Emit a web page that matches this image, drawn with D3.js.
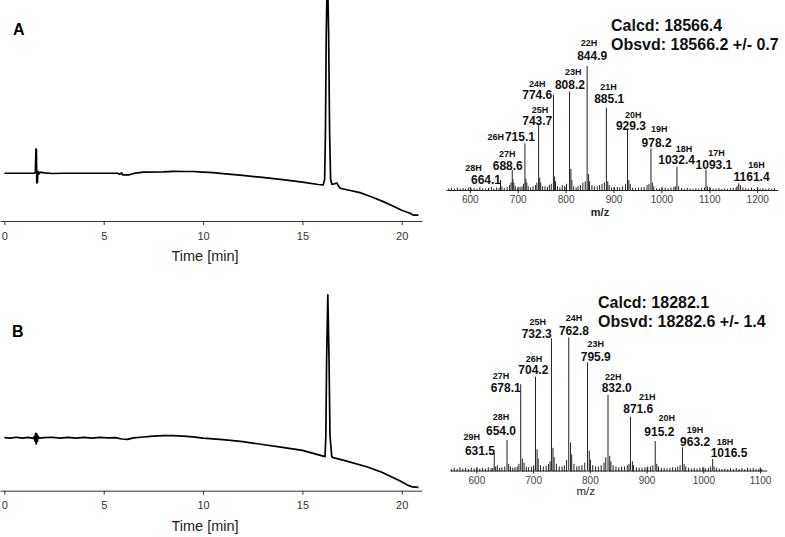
<!DOCTYPE html>
<html><head><meta charset="utf-8">
<script src="https://cdn.jsdelivr.net/npm/d3@7"></script>
<style>
body{margin:0;background:#fff;}
svg{display:block;font-family:Arial,"Liberation Sans",Helvetica,sans-serif;}
</style></head><body>
<svg id="c" width="785" height="537"></svg>
<script>
// ---------- DATA ----------
const timeTicks = [0, 5, 10, 15, 20];

// Chromatogram A (time in min, absorbance in arbitrary units)
const chromA_time = [0,1.0,1.5,1.56,1.59,1.61,1.63,1.66,1.69,1.74,1.8,2.0,2.4,3.0,4.0,5.0,5.7,5.8,5.9,5.95,6.3,6.6,7.0,8.0,8.5,9.0,9.5,10.0,10.5,11.0,12.0,13.0,14.0,15.0,15.8,16.05,16.12,16.16,16.20,16.26,16.32,16.37,16.42,16.48,16.62,16.73,16.8,16.9,17.3,17.9,18.5,19.07,19.5,20.0,20.41,20.58,20.84];
const chromA_signal = [21.7,21.7,21.7,22.2,32.7,32.7,17.3,17.5,22.6,21.4,22.2,21.9,21.6,21.7,21.7,21.7,21.7,21.2,21.9,21.0,21.0,21.8,22.2,22.3,22.6,22.5,22.5,22.2,22.0,21.5,20.7,19.8,18.8,17.7,16.6,16.4,19,40,85,115,85,40,19,16.7,16.9,17.3,16.2,14.9,14.1,12.9,10.9,8.8,7.0,4.9,3.5,2.7,2.7];

// Chromatogram B
const chromB_time = [0,0.3,0.6,0.9,1.2,1.45,1.5,1.54,1.57,1.6,1.63,1.66,1.7,1.75,2.0,2.4,2.8,3.2,3.6,4.0,4.4,4.8,5.2,5.6,5.9,6.2,6.5,7.0,7.5,8.0,8.5,9.0,9.5,10.0,11.0,12.0,13.0,14.0,15.0,16.14,16.18,16.22,16.28,16.34,16.39,16.48,16.55,17.0,18.24,19.0,19.9,20.33,20.55,20.84];
const chromB_signal = [24.1,23.9,24.3,23.9,24.2,23.8,24.6,22.5,26.1,21.3,26.0,22.3,24.8,23.9,24.1,24.3,23.9,24.2,23.9,24.2,23.9,24.2,24.0,24.1,23.5,23.3,24.0,24.4,24.8,25.0,25.0,24.8,24.5,23.9,23.2,22.3,21.0,19.7,18.3,15.5,25,60,89,60,25,15.4,15.0,14.0,10.9,8.4,4.5,2.4,1.7,1.5];

// Mass spectrum A
const msA_ticks = [600,700,800,900,1000,1100,1200];
const msA_mz = [664.1,688.6,715.1,743.7,774.6,808.2,844.9,885.1,929.3,978.2,1032.4,1093.1,1161.4];
const msA_charge = [28,27,26,25,24,23,22,21,20,19,18,17,16];
const msA_int = [8.1,16.1,37.6,53.8,76.6,79.3,100,66.4,48.4,33.6,18.8,16.5,5.4];
const msA_noiseMz = [556,562,568,574,580,586,591,597,603,609,615,621,627,633,639,645,650,656,661,667,672,678,683,686,690,692,695,700,705,709,712,717,719,722,727,732,737,740,746,748,752,757,762,766,770,777,779,783,788,793,798,802,811,813,817,822,826,831,836,841,848,850,855,860,866,871,876,881,888,891,896,902,908,913,919,925,932,935,940,946,952,958,964,970,974,981,984,990,996,1002,1008,1014,1020,1026,1029,1036,1042,1048,1054,1060,1066,1072,1078,1084,1090,1096,1102,1108,1114,1120,1126,1132,1138,1144,1150,1156,1158,1165,1170,1176,1182,1188,1194,1200,1206,1212,1218,1224,1230,1236];
const msA_noiseInt = [1.2,1.8,1,2,1.2,1.6,1,2,1.3,1.6,1,2.2,1.4,1,1.8,2.5,1.2,2,1.5,3,1.5,2.5,4,6,9,6,3,2,2.5,3,5,9,6,3,2,3,4,6,10,6,3,3,2.5,4,5,11,7,3,2,4,3,5,17,8,3,2,3,4,6,7,13,7,4,3,3,4,5,6,7,4,2,2,2.5,2,3,5,8,5,2,1.5,2,2,2.5,4,5,6,3,1.5,1.2,1.5,2,1.3,2,2.5,3,3,1.5,1,1.8,1.2,1,1.5,1.2,1.8,2,3,1.5,1,1.2,1.5,1,1.3,1,1.5,1.8,2,3,4,2,1.5,1,1.8,1,1.2,1,1.5,1,1.2,1,1.5];

// Mass spectrum B
const msB_ticks = [600,700,800,900,1000,1100];
const msB_mz = [631.5,654.0,678.1,704.2,732.3,762.8,795.9,832.0,871.6,915.2,963.2,1016.5];
const msB_charge = [29,28,27,26,25,24,23,22,21,20,19,18];
const msB_int = [13.4,22.9,64.9,70.4,99.2,100,81.2,56.7,40.4,22.1,17.4,8.6];
const msB_noiseMz = [556,561,566,571,576,581,586,591,596,601,606,611,616,621,626,629,634,637,641,645,650,657,660,664,668,672,675,681,684,688,692,697,701,707,709,713,718,723,727,730,735,737,741,746,751,755,759,766,768,772,777,781,786,791,799,801,805,810,815,820,825,828,835,837,841,846,851,856,861,866,869,875,877,882,887,892,897,902,907,911,918,921,926,931,936,941,946,951,955,959,966,969,974,979,984,989,994,999,1004,1009,1013,1019,1023,1028,1033,1038,1043,1048,1053,1058,1063,1068,1073,1078,1083,1088,1093,1098,1103];
const msB_noiseInt = [1,2,1.2,2.5,1.5,2,1.2,2.2,1.5,2.5,1.5,2,1.3,2.5,1.8,2,3,4,2,2.5,3,5,3,2,2.5,3,5,9,6,3,2.5,3,4,16,9,4,3,3.5,5,7,17,10,5,3,3,4,8,21,12,5,3,3.5,4,6,15,8,4,3,3,4,6,10,11,7,4,3,2.5,3,3,4,5,7,4,2.5,2,2,2.5,3,3,4,5,3,2,2,1.5,2,2.5,2,3,4,5,3,2,1.5,2,1.5,2,2.5,1.5,2,3,3,2,1.5,1.2,1.5,1,1.8,1,2,1.2,1.8,1,2,1.5,2,1.2,1.5,1];

// ---------- LAYOUT (label offsets from each peak top, px) ----------
const labOffA = [[-27,-11.5,-14.5,0],[-5,-16,-4.5,-4.5],[-29.3,-6.5,-5,-6.5],[1.3,-13.5,-1.4,-2],[-16.2,-11.5,-16.2,0],[3.7,-20,0.4,-6.7],[1.8,-23.3,5.1,-10],[2.2,-20.4,2.8,-8.7],[5.7,-15.2,3.4,-4],[8.2,-19.3,5.6,-5.6],[7,-17.8,-0.3,-6.4],[10.6,-17,7.9,-5],[17.9,-18,12.9,-6.6]];
const labOffB = [[-22.6,-15.4,-14.3,-2],[-6,-22.7,-6,-9.3],[-19.7,-8.3,-15,4.3],[-1.5,-18,-2.2,-6.7],[-13.8,-16,-14.8,-4],[5.2,-19,5.2,-6.6],[8.2,-18.3,8.2,-5.6],[5.3,-18.3,8.7,-6.7],[16.8,-20,7.8,-7.4],[11.5,-22.7,4.1,-8.7],[12.6,-17.5,12.6,-5.6],[12.3,-17.3,16.3,-5.7]];

// ---------- DRAW ----------
const svg = d3.select("#c");

function chrom(times, signal, axisY, letter, letterX, letterY) {
  const g = svg.append("g");
  const x = d3.scaleLinear().domain([-0.22, 21.02]).range([0, 422]);
  const y = d3.scaleLinear().domain([0, 100]).range([axisY, axisY - 220]);
  const ax = g.append("g").attr("transform", `translate(0,${axisY})`)
    .call(d3.axisBottom(x).tickValues(timeTicks).tickFormat(d3.format("d")).tickSize(4).tickPadding(7).tickSizeOuter(0));
  ax.select(".domain").attr("stroke", "#333").attr("stroke-width", 1);
  ax.selectAll(".tick line").attr("stroke", "#333");
  ax.selectAll(".tick text").attr("font-size", 11).attr("fill", "#333").attr("font-family", "Arial, Liberation Sans, sans-serif");
  g.append("text").attr("x", 205).attr("y", axisY + 35).attr("text-anchor", "middle")
    .attr("dominant-baseline", "central").attr("font-size", 14.5).attr("fill", "#222").text("Time [min]");
  const line = d3.line().x((d, i) => x(times[i])).y(d => y(d));
  g.append("path").attr("d", line(signal)).attr("fill", "none").attr("stroke", "#000")
    .attr("stroke-width", 1.7).attr("stroke-linejoin", "round");
  g.append("text").attr("x", letterX).attr("y", letterY).attr("font-size", 16).attr("font-weight", "bold").text(letter);
}

function ms(opts) {
  const g = svg.append("g");
  const x = d3.scaleLinear().domain(opts.domain).range(opts.range);
  const y = d3.scaleLinear().domain([0, 100]).range(opts.yRange);
  const base = opts.yRange[0];
  g.append("g").selectAll("line").data(opts.noiseMz).join("line")
    .attr("x1", d => x(d)).attr("x2", d => x(d))
    .attr("y1", base + 1).attr("y2", (d, i) => y(opts.noiseInt[i]))
    .attr("stroke", "#222").attr("stroke-width", 1);
  const ax = g.append("g").attr("transform", `translate(0,${base})`)
    .call(d3.axisBottom(x).tickValues(opts.ticks).tickFormat(d3.format("d")).tickSize(3).tickPadding(3).tickSizeOuter(0));
  ax.select(".domain").attr("stroke", "#222").attr("stroke-width", 1);
  ax.selectAll(".tick line").attr("stroke", "#222").attr("y1", -3);
  ax.selectAll(".tick text").attr("font-size", 10).attr("fill", "#444").attr("font-family", "Arial, Liberation Sans, sans-serif");
  g.append("text").attr("x", opts.mzX).attr("y", opts.mzY).attr("text-anchor", "middle")
    .attr("dominant-baseline", "central").attr("font-size", opts.mzSize)
    .attr("font-weight", opts.mzBold ? "bold" : "normal").attr("fill", "#222").text("m/z");
  g.append("g").selectAll("line").data(opts.mz).join("line")
    .attr("x1", d => x(d)).attr("x2", d => x(d))
    .attr("y1", base).attr("y2", (d, i) => y(opts.int[i]))
    .attr("stroke", "#222").attr("stroke-width", 1);
  const lab = g.append("g").selectAll("g").data(opts.mz).join("g");
  lab.append("text")
    .attr("x", (d, i) => x(d) + opts.off[i][0]).attr("y", (d, i) => y(opts.int[i]) + opts.off[i][1])
    .attr("text-anchor", "middle").attr("dominant-baseline", "central")
    .attr("font-size", 9).attr("font-weight", "bold").attr("fill", "#111")
    .text((d, i) => opts.charge[i] + "H");
  lab.append("text")
    .attr("x", (d, i) => x(d) + opts.off[i][2]).attr("y", (d, i) => y(opts.int[i]) + opts.off[i][3])
    .attr("text-anchor", "middle").attr("dominant-baseline", "central")
    .attr("font-size", 12).attr("font-weight", "bold").attr("fill", "#111")
    .text(d => d.toFixed(1));
  g.append("text").attr("x", opts.annX).attr("y", opts.annY1).attr("font-size", 16).attr("font-weight", "bold").attr("fill", "#111").text(opts.calcd);
  g.append("text").attr("x", opts.annX).attr("y", opts.annY2).attr("font-size", 16).attr("font-weight", "bold").attr("fill", "#111").text(opts.obsvd);
}

chrom(chromA_time, chromA_signal, 221, "A", 13, 35);
chrom(chromB_time, chromB_signal, 490.7, "B", 12, 336.7);

ms({domain: [550.3, 1242.8], range: [446, 777.7], yRange: [190, 66], ticks: msA_ticks,
    mz: msA_mz, int: msA_int, charge: msA_charge, off: labOffA,
    noiseMz: msA_noiseMz, noiseInt: msA_noiseInt,
    mzX: 600, mzY: 211.5, mzSize: 11, mzBold: true,
    annX: 611, annY1: 30.7, annY2: 50, calcd: "Calcd: 18566.4", obsvd: "Obsvd: 18566.2 +/- 0.7"});

ms({domain: [553.5, 1111.7], range: [450, 766.7], yRange: [470.5, 337.3], ticks: msB_ticks,
    mz: msB_mz, int: msB_int, charge: msB_charge, off: labOffB,
    noiseMz: msB_noiseMz, noiseInt: msB_noiseInt,
    mzX: 585.8, mzY: 490.5, mzSize: 11.5, mzBold: false,
    annX: 598, annY1: 307.7, annY2: 326.7, calcd: "Calcd: 18282.1", obsvd: "Obsvd: 18282.6 +/- 1.4"});
</script>
</body></html>
